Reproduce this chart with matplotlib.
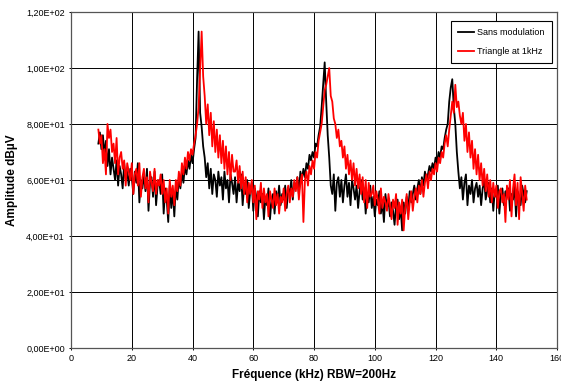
import numpy as np
import matplotlib
matplotlib.use("Agg")
import matplotlib.pyplot as plt
from matplotlib.ticker import FuncFormatter, MultipleLocator

plt.rcParams['font.family'] = ['Liberation Sans', 'DejaVu Sans']

# frequency axis, 9 to 150 kHz every 0.5 kHz
freq = np.arange(9.0, 150.01, 0.5)

# amplitude (dBuV)
sans_modulation = [
    73, 77, 71, 76, 69, 74, 65, 71, 62, 68,
    64, 60, 67, 58, 65, 62, 57, 66, 60, 63,
    58, 64, 61, 55, 63, 59, 66, 52, 60, 57,
    62, 56, 64, 49, 59, 61, 54, 63, 51, 58,
    60, 55, 62, 48, 57, 53, 45, 58, 50, 56,
    47, 58, 53, 61, 57, 63, 59, 65, 62, 67,
    64, 69, 66, 71, 75, 96, 113, 84, 79, 72,
    68, 61, 66, 57, 64, 55, 62, 60, 54, 63,
    58, 61, 53, 63, 57, 60, 52, 62, 59, 55,
    61, 52, 59, 56, 62, 51, 58, 55, 60, 50,
    56, 59, 49, 57, 54, 47, 56, 52, 55, 46,
    54, 51, 57, 46, 53, 55, 48, 56, 52, 58,
    51, 55, 53, 58, 50, 57, 55, 60, 53, 59,
    57, 61, 55, 63, 60, 64, 61, 66, 64, 69,
    67, 70, 68, 73, 72, 76, 79, 86, 94, 102,
    88, 76, 68, 58, 55, 62, 49, 59, 61, 54,
    60, 52, 58, 62, 54, 59, 51, 60, 57, 53,
    58, 50, 56, 60, 53, 57, 48, 55, 52, 58,
    50, 54, 47, 53, 51, 56, 48, 52, 45, 55,
    50, 53, 47, 52, 49, 44, 51, 53, 46, 50,
    42, 52, 48, 54, 50, 56, 52, 55, 58, 53,
    57, 60, 55, 61, 58, 63, 60, 62, 65, 63,
    66, 64, 68, 66, 70, 68, 72, 71, 75, 78,
    80, 88, 93, 96, 86, 80, 70, 63, 57, 61,
    53, 59, 62, 51, 58, 55, 60, 52, 57, 59,
    54, 58, 51, 57, 60, 53, 56, 59, 52, 57,
    49, 56, 54, 58, 48, 55, 57, 51, 56, 54,
    57, 49, 55, 53, 58, 47, 56, 54, 51, 58,
    55, 52, 56,
]

triangle_1khz = [
    78, 73, 76, 66, 71, 62, 80, 75, 78, 70,
    73, 66, 75, 62, 68, 70, 64, 67, 58, 66,
    63, 60, 66, 55, 62, 64, 58, 66, 54, 61,
    64, 57, 61, 52, 63, 59, 56, 64, 55, 60,
    58, 62, 55, 60, 52, 57, 48, 60, 54, 58,
    51, 60, 56, 63, 58, 66, 62, 68, 64, 70,
    67, 71, 69, 73, 76, 80, 86, 100, 113, 97,
    90, 80, 87, 76, 84, 72, 81, 70, 78, 68,
    76, 66, 74, 64, 72, 62, 70, 60, 69, 63,
    63, 67, 59, 65, 57, 63, 55, 61, 52, 59,
    55, 60, 52, 58, 46, 56, 53, 59, 50, 57,
    52, 55, 47, 56, 53, 50, 57, 51, 55, 48,
    54, 52, 57, 49, 55, 58, 52, 57, 54, 60,
    56, 61, 53, 59, 62, 45, 60, 63, 58, 65,
    62, 67, 64, 70, 68, 74, 77, 80, 86, 92,
    94, 97, 100, 90, 88, 82, 80, 75, 78, 72,
    74, 68, 72, 64, 69, 62, 67, 60, 66, 58,
    64, 57, 62, 55, 61, 52, 60, 50, 59, 54,
    55, 58, 51, 56, 53, 48, 57, 50, 54, 52,
    49, 55, 51, 46, 53, 50, 55, 44, 52, 48,
    53, 42, 50, 55, 46, 52, 56, 49, 54, 57,
    52, 58, 55, 60, 54, 59, 62, 57, 63, 60,
    64, 62, 66, 63, 68, 66, 70, 68, 73, 76,
    72, 78, 83, 88, 84, 94, 86, 88, 83, 80,
    84, 74, 80, 70, 77, 68, 74, 64, 71, 62,
    69, 60, 66, 58, 64, 56, 62, 54, 60, 52,
    59, 54, 58, 50, 56, 57, 52, 55, 45, 58,
    53, 60, 47, 57, 62, 51, 59, 46, 61, 55,
    49, 58, 53,
]

series_names = ["Sans modulation", "Triangle at 1kHz"]


def sci_comma(v, pos):
    s = "%.2E" % v
    mant, exp = s.split("E")
    return mant.replace(".", ",") + "E" + exp[0] + exp[1:].zfill(2)


fig = plt.figure(figsize=(5.61, 3.83), dpi=100)
ax = fig.add_axes([0.1266, 0.0914, 0.8664, 0.8773])

ax.plot(freq, sans_modulation, color="black", lw=1.3, label=series_names[0], zorder=3)
ax.plot(freq, triangle_1khz, color="red", lw=1.3, label=series_names[1], zorder=4)

ax.set_xlim(0, 160)
ax.set_ylim(0, 120)
ax.xaxis.set_major_locator(MultipleLocator(20))
ax.yaxis.set_major_locator(MultipleLocator(20))
ax.yaxis.set_major_formatter(FuncFormatter(sci_comma))
ax.grid(True, color="black", lw=0.7)
ax.set_axisbelow(True)
for sp in ax.spines.values():
    sp.set_color("#555555")
    sp.set_linewidth(0.9)
ax.tick_params(axis="both", labelsize=6.5, length=3, direction="inout", width=0.7, pad=3)

ax.set_xlabel("Fréquence (kHz) RBW=200Hz", fontsize=8.5, fontweight="bold", labelpad=4)
ax.set_ylabel("Amplitude dBµV", fontsize=8.5, fontweight="bold", labelpad=6)

leg = ax.legend(loc="upper right", bbox_to_anchor=(0.998, 0.988), fontsize=6.5,
                frameon=True, fancybox=False, edgecolor="black", framealpha=1,
                handlelength=1.8, handletextpad=0.3, borderpad=0.8, labelspacing=1.1)
leg.get_frame().set_linewidth(0.8)

fig.savefig("out.png", dpi=100)
